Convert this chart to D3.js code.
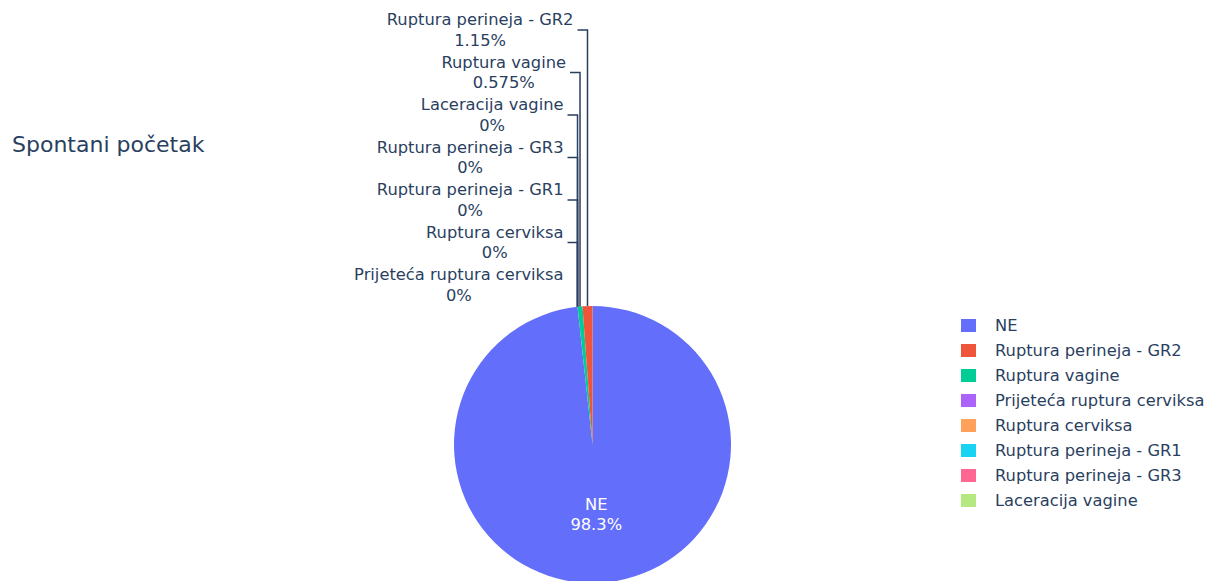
<!DOCTYPE html>
<html>
<head>
<meta charset="utf-8">
<script src="https://cdn.jsdelivr.net/npm/d3@7"></script>
<style>
  html, body { margin: 0; padding: 0; background: #fff; }
  text { font-family: "DejaVu Sans", Verdana, sans-serif; }
</style>
</head>
<body>
<script>
// Categories in legend order, with case counts and trace colours
const categories = [
  "NE",
  "Ruptura perineja - GR2",
  "Ruptura vagine",
  "Prijeteća ruptura cerviksa",
  "Ruptura cerviksa",
  "Ruptura perineja - GR1",
  "Ruptura perineja - GR3",
  "Laceracija vagine"
];
const counts = [171, 2, 1, 0, 0, 0, 0, 0];
const colors = ["#636efa", "#EF553B", "#00cc96", "#ab63fa", "#FFA15A", "#19d3f3", "#FF6692", "#B6E880"];

// Slice order, clockwise from 12 o'clock
const sliceOrder = [
  "NE",
  "Prijeteća ruptura cerviksa",
  "Ruptura cerviksa",
  "Ruptura perineja - GR1",
  "Ruptura perineja - GR3",
  "Laceracija vagine",
  "Ruptura vagine",
  "Ruptura perineja - GR2"
];
const insideLabels = ["NE"];
const title = "Spontani početak";

const W = 1206, H = 581;
const textColor = "#2a3f5f";
const fontSize = 16.3;
const cx = 592.5, cy = 444.5, R = 138.5;

const svg = d3.select("body").append("svg")
  .attr("width", W).attr("height", H);

const total = d3.sum(counts);
const fmt = d3.format(".3~p");

const data = sliceOrder.map(name => {
  const i = categories.indexOf(name);
  return { name, value: counts[i], color: colors[i], share: counts[i] / total };
});

const arcs = d3.pie().sort(null).value(d => d.value)
  .startAngle(0).endAngle(2 * Math.PI)(data);
const arc = d3.arc().innerRadius(0).outerRadius(R);

const g = svg.append("g").attr("transform", `translate(${cx},${cy})`);
g.selectAll("path.slice").data(arcs).join("path")
  .attr("class", "slice")
  .attr("d", arc)
  .attr("fill", d => d.data.color);

// Inside label(s)
arcs.filter(d => insideLabels.includes(d.data.name)).forEach(d => {
  const [x, y] = arc.centroid(d);
  const t = g.append("text")
    .attr("text-anchor", "middle")
    .attr("fill", "#ffffff")
    .attr("font-size", fontSize);
  t.append("tspan").attr("x", x).attr("y", y - 4).text(d.data.name);
  t.append("tspan").attr("x", x).attr("y", y + 16.5).text(fmt(d.data.share));
});

// Outside labels, stacked upward above the pie with connector lines
const outside = arcs.filter(d => !insideLabels.includes(d.data.name));
const stub = 10, gap = 4, firstOffset = 21, step = 42.5;
const lab = svg.append("g");
outside.forEach((d, k) => {
  const mid = (d.startAngle + d.endAngle) / 2;
  const px = cx + R * Math.sin(mid);
  const py = cy - R * Math.cos(mid);
  const ty = cy - R - firstOffset - k * step;
  if (k > 0) {
    lab.append("path")
      .attr("d", `M${px},${py}V${ty}H${px - stub}`)
      .attr("fill", "none")
      .attr("stroke", textColor)
      .attr("stroke-width", 1.5);
  }
  const right = px - stub - gap;
  const t = lab.append("text")
    .attr("text-anchor", "middle")
    .attr("fill", textColor)
    .attr("font-size", fontSize);
  const l1 = t.append("tspan").attr("y", ty - 5).text(d.data.name);
  const l2 = t.append("tspan").attr("y", ty + 15.5).text(fmt(d.data.share));
  const w = Math.max(l1.node().getComputedTextLength(), l2.node().getComputedTextLength());
  l1.attr("x", right - w / 2);
  l2.attr("x", right - w / 2);
});

// Title
svg.append("text")
  .attr("x", 12).attr("y", 152)
  .attr("fill", textColor)
  .attr("font-size", 22)
  .text(title);

// Legend
const legend = svg.append("g").attr("transform", "translate(961,330.7)");
const items = legend.selectAll("g").data(categories).join("g")
  .attr("transform", (d, i) => `translate(0,${i * 25})`);
items.append("rect")
  .attr("x", 0).attr("y", -11.7).attr("width", 15).attr("height", 13)
  .attr("fill", (d, i) => colors[i]);
items.append("text")
  .attr("x", 34).attr("y", 0)
  .attr("fill", textColor)
  .attr("font-size", fontSize)
  .text(d => d);
</script>
</body>
</html>
